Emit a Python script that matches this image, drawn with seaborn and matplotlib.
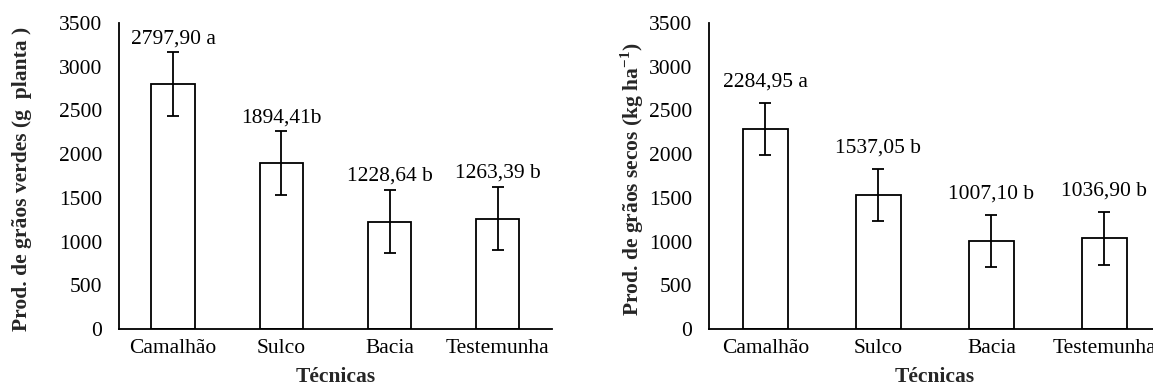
import matplotlib
matplotlib.use("Agg")
import matplotlib.pyplot as plt
import seaborn as sns
import pandas as pd
import numpy as np

sns.set_theme(style="white")
plt.rcParams["font.family"] = ["Liberation Serif", "DejaVu Serif"]
plt.rcParams["mathtext.fontset"] = "custom"
plt.rcParams["mathtext.rm"] = "Liberation Serif"
plt.rcParams["mathtext.bf"] = "Liberation Serif:bold"

tecnicas = ["Camalhão", "Sulco", "Bacia", "Testemunha"]

verdes = [2797.90, 1894.41, 1228.64, 1263.39]
verdes_err = [365, 365, 365, 365]
verdes_labels = ["2797,90 a", "1894,41b", "1228,64 b", "1263,39 b"]

secos = [2284.95, 1537.05, 1007.10, 1036.90]
secos_err = [297, 297, 297, 300]
secos_labels = ["2284,95 a", "1537,05 b", "1007,10 b", "1036,90 b"]

yticks = [0, 500, 1000, 1500, 2000, 2500, 3000, 3500]

fs = 15.5
fig = plt.figure(figsize=(11.53, 3.87), dpi=100)
ax1 = fig.add_axes([0.1032, 0.1499, 0.3755, 0.7907])
ax2 = fig.add_axes([0.6149, 0.1499, 0.3920, 0.7907])

panels = [
    (ax1, verdes, verdes_err, verdes_labels,
     "Prod. de grãos verdes (g  planta )", 10, -0.2235),
    (ax2, secos, secos_err, secos_labels,
     r"Prod. de grãos secos (kg ha$^{\mathbf{-1}}$)", 15, -0.1704),
]

lw = 1.3
for ax, vals, errs, labels, ylab, off, ylab_x in panels:
    df = pd.DataFrame({"Técnicas": tecnicas, "valor": vals})
    sns.barplot(data=df, x="Técnicas", y="valor", ax=ax, color="white",
                edgecolor="black", linewidth=lw, width=0.4, errorbar=None)
    x = np.arange(len(vals))
    ax.errorbar(x, vals, yerr=errs, fmt="none", ecolor="black",
                elinewidth=lw, capsize=4, capthick=lw)
    for xi, v, e, t in zip(x, vals, errs, labels):
        ax.annotate(t, (xi, v + e), xytext=(0, off), textcoords="offset points",
                    ha="center", va="center", fontsize=fs, color="black")

    ax.set_xlim(-0.5, len(vals) - 0.5)
    ax.set_ylim(0, 3500)
    ax.set_yticks(yticks)
    ax.set_yticklabels([str(t) for t in yticks], fontsize=fs)
    ax.set_xticks(x)
    ax.set_xticklabels(tecnicas, fontsize=fs)
    ax.set_xticks(np.arange(len(vals) + 1) - 0.5, minor=True)
    ax.tick_params(axis="x", which="major", length=0, pad=7, colors="black")
    ax.tick_params(axis="x", which="minor", length=5, width=lw, direction="out",
                   color="black")
    ax.tick_params(axis="y", which="major", length=5, width=lw, direction="out",
                   color="black", labelcolor="black", pad=7)
    ax.set_xlabel("Técnicas", fontsize=fs, fontweight="bold", labelpad=6.5)
    ax.set_ylabel(ylab, fontsize=fs, fontweight="bold")
    ax.yaxis.label.set_verticalalignment("center")
    ax.yaxis.set_label_coords(ylab_x, 0.49)
    for s in ["top", "right"]:
        ax.spines[s].set_visible(False)
    for s in ["left", "bottom"]:
        ax.spines[s].set_color("black")
        ax.spines[s].set_linewidth(lw)
    ax.set_facecolor("white")

fig.savefig("out.png", dpi=100, facecolor="white")
